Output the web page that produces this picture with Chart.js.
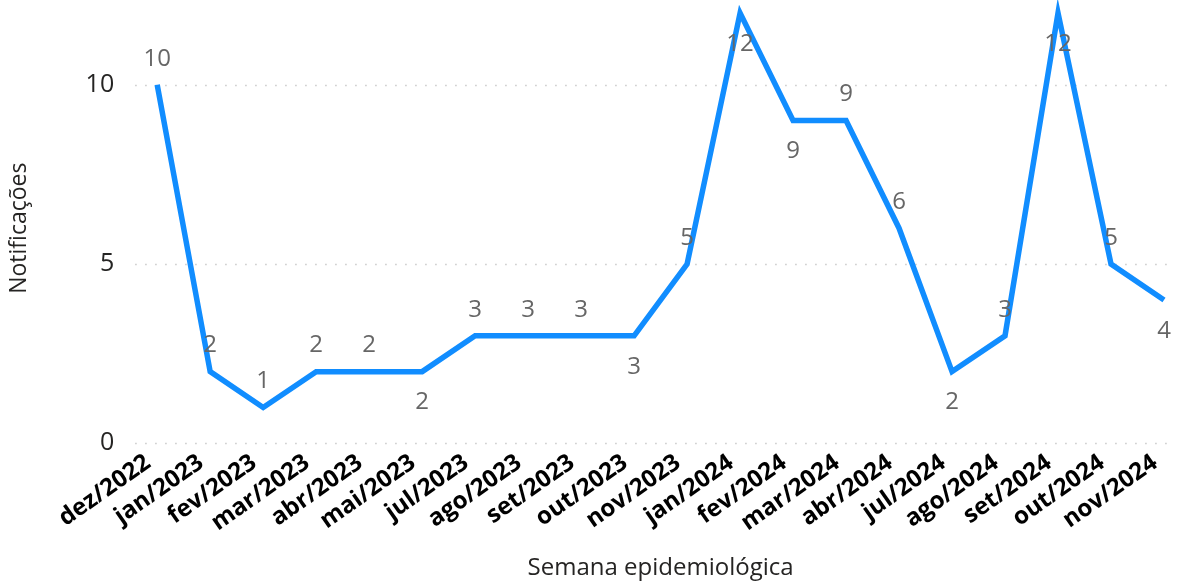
<!DOCTYPE html>
<html lang="pt-BR">
<head>
<meta charset="utf-8">
<script src="https://cdn.jsdelivr.net/npm/chart.js@4/dist/chart.umd.min.js"></script>
<style>
  body { margin: 0; background: #fff; }
  #caixa { width: 1179px; height: 583px; position: relative; }
</style>
</head>
<body>
<div id="caixa"><canvas id="graficoNotificacoes"></canvas></div>
<script>
// Dados
const categorias = ["dez/2022", "jan/2023", "fev/2023", "mar/2023", "abr/2023", "mai/2023", "jul/2023", "ago/2023", "set/2023", "out/2023",
    "nov/2023", "jan/2024", "fev/2024", "mar/2024", "abr/2024", "jul/2024", "ago/2024", "set/2024", "out/2024", "nov/2024"];
const notificacoes = [10, 2, 1, 2, 2, 2, 3, 3, 3, 3, 5, 12, 9, 9, 6, 2, 3, 12, 5, 4];
const ticksY = [0, 5, 10];

// Onde fica o rótulo de cada ponto (acima ou abaixo)
const posRotulos = ['a', 'a', 'a', 'a', 'a', 'b', 'a', 'a', 'a', 'b', 'a', 'b', 'b', 'a', 'a', 'b', 'a', 'b', 'a', 'b'];

const fonte = "'Open Sans', 'Noto Sans', sans-serif";

// Linhas de grade pontilhadas (começam um pouco antes do primeiro ponto)
const gradePontilhada = {
    id: 'gradePontilhada',
    beforeDatasetsDraw(chart) {
        const { ctx, chartArea, scales } = chart;
        ctx.save();
        ctx.strokeStyle = '#c8c8c8';
        ctx.lineWidth = 1.5;
        ctx.setLineDash([1.5, 8.5]);
        ticksY.forEach(v => {
            const y = Math.round(scales.y.getPixelForValue(v)) + 0.5;
            ctx.beginPath();
            ctx.moveTo(chartArea.left - 22, y);
            ctx.lineTo(chartArea.right + 6, y);
            ctx.stroke();
        });
        ctx.restore();
    }
};

// Rótulos de dados (valor de cada ponto)
const rotulos = {
    id: 'rotulos',
    afterDatasetsDraw(chart) {
        const { ctx } = chart;
        const meta = chart.getDatasetMeta(0);
        ctx.save();
        ctx.font = '24px ' + fonte;
        ctx.fillStyle = '#666666';
        ctx.textAlign = 'center';
        ctx.textBaseline = 'middle';
        meta.data.forEach((p, i) => {
            const dy = posRotulos[i] === 'a' ? -26 : 31;
            ctx.fillText(String(notificacoes[i]), p.x, p.y + dy);
        });
        ctx.restore();
    }
};

const ctx = document.getElementById('graficoNotificacoes').getContext('2d');

new Chart(ctx, {
    type: 'line',
    data: {
        labels: categorias,
        datasets: [{
            label: 'Notificações',
            data: notificacoes,
            borderColor: '#118DFF',
            borderWidth: 5.5,
            pointRadius: 0,
            tension: 0,
            clip: false
        }]
    },
    options: {
        responsive: true,
        maintainAspectRatio: false,
        animation: false,
        layout: { padding: { left: 0, right: 15, top: 13, bottom: 0 } },
        plugins: {
            legend: { display: false },
            tooltip: { enabled: false }
        },
        scales: {
            x: {
                offset: false,
                grid: { display: false, drawTicks: false },
                border: { display: false },
                afterFit: (eixo) => { eixo.paddingRight = 0; },
                ticks: {
                    minRotation: 35,
                    maxRotation: 35,
                    autoSkip: false,
                    color: '#000',
                    padding: 5,
                    labelOffset: -9,
                    font: { family: fonte, size: 24, weight: 'bold' }
                },
                title: {
                    display: true,
                    text: 'Semana epidemiológica',
                    color: '#252423',
                    padding: { top: 12, bottom: 0 },
                    font: { family: fonte, size: 24 }
                }
            },
            y: {
                min: 0,
                max: 12,
                afterBuildTicks: (eixo) => { eixo.ticks = ticksY.map(v => ({ value: v })); },
                afterFit: (eixo) => { eixo.paddingTop = 0; eixo.paddingBottom = 0; },
                grid: { display: false, drawTicks: false },
                border: { display: false },
                ticks: {
                    color: '#252423',
                    padding: 43,
                    font: { family: fonte, size: 25 }
                },
                title: {
                    display: true,
                    text: 'Notificações',
                    color: '#252423',
                    padding: { top: 6, bottom: 9 },
                    font: { family: fonte, size: 23 }
                }
            }
        }
    },
    plugins: [gradePontilhada, rotulos]
});
</script>
</body>
</html>
